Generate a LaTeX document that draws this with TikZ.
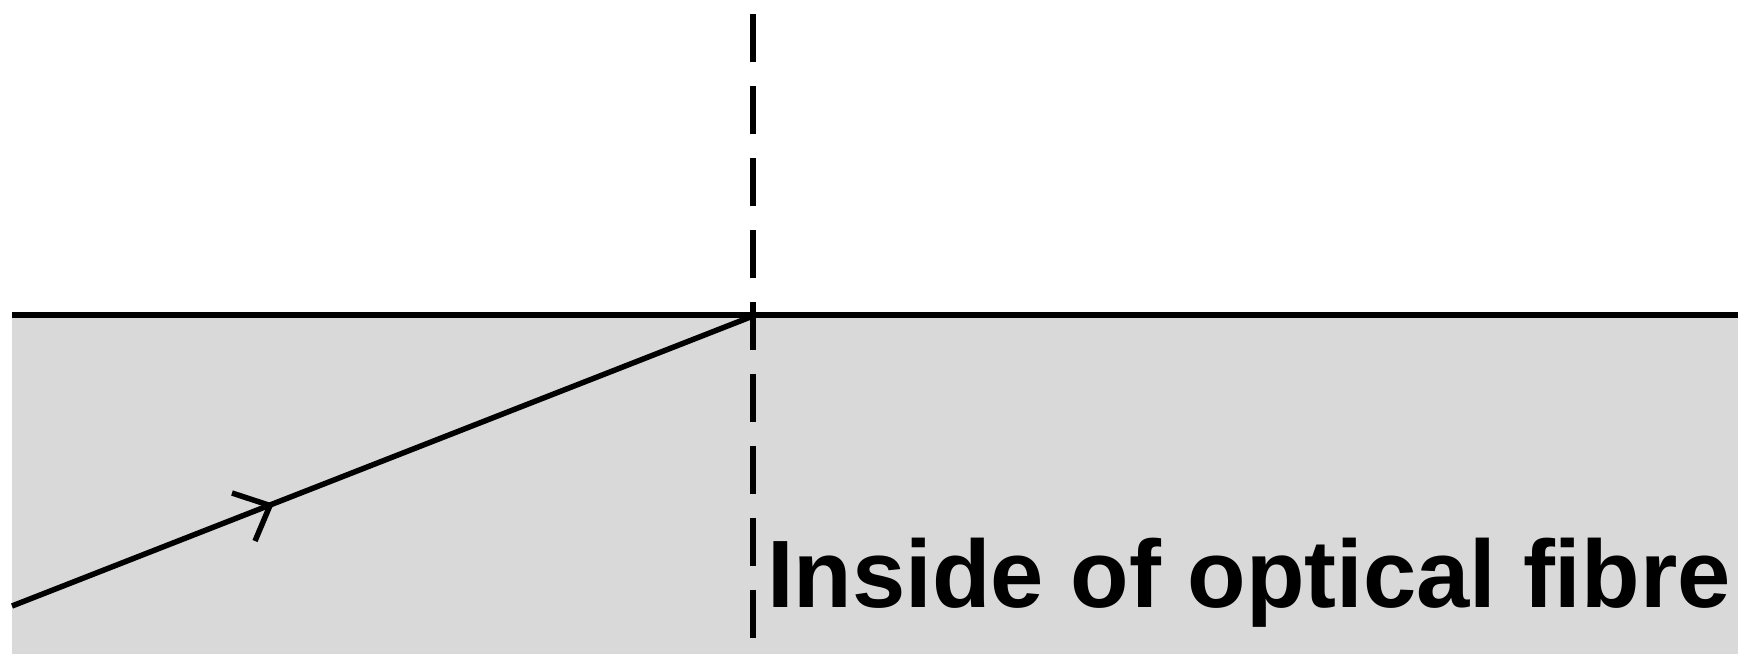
\documentclass[tikz,border=0pt]{standalone}
\usepackage{fontspec}
\setmainfont{Liberation Sans}
\definecolor{fibregray}{HTML}{D9D9D9}
\tikzset{
  boundary/.style={line width=6pt, black},
  normalline/.style={line width=6pt, black, dash pattern=on 48pt off 24pt},
  raypath/.style={line width=5.5pt, black},
  rayhead/.style={line width=5.5pt, black, line cap=butt},
  label/.style={inner sep=0pt, anchor=base west, font=\bfseries\fontsize{95.8}{110}\selectfont}
}
\begin{document}
\begin{tikzpicture}[x=1pt, y=-1pt]
\useasboundingbox (0,0) rectangle (1740,654);
% fibre interior
\fill[fibregray] (12,315) rectangle (1738,654);
% boundary
\coordinate (bl) at (12,315);
\coordinate (br) at (1738,315);
\draw[boundary] (bl) -- (br);
% normal
\coordinate (ntop) at (753,14);
\coordinate (nbot) at (753,639);
\draw[normalline] (ntop) -- (nbot);
% ray
\coordinate (rstart) at (12,606);
\coordinate (rend) at (753,316);
\draw[raypath] (rstart) -- (rend);
% arrowhead
\coordinate (tip) at (270,505.5);
\coordinate (armA) at (232,493);
\coordinate (armB) at (255,541);
\draw[rayhead] (armA) -- (tip) -- (armB);
% label
\node[label] (lbl) at (767,607) {Inside of optical fibre};
\end{tikzpicture}
\end{document}
